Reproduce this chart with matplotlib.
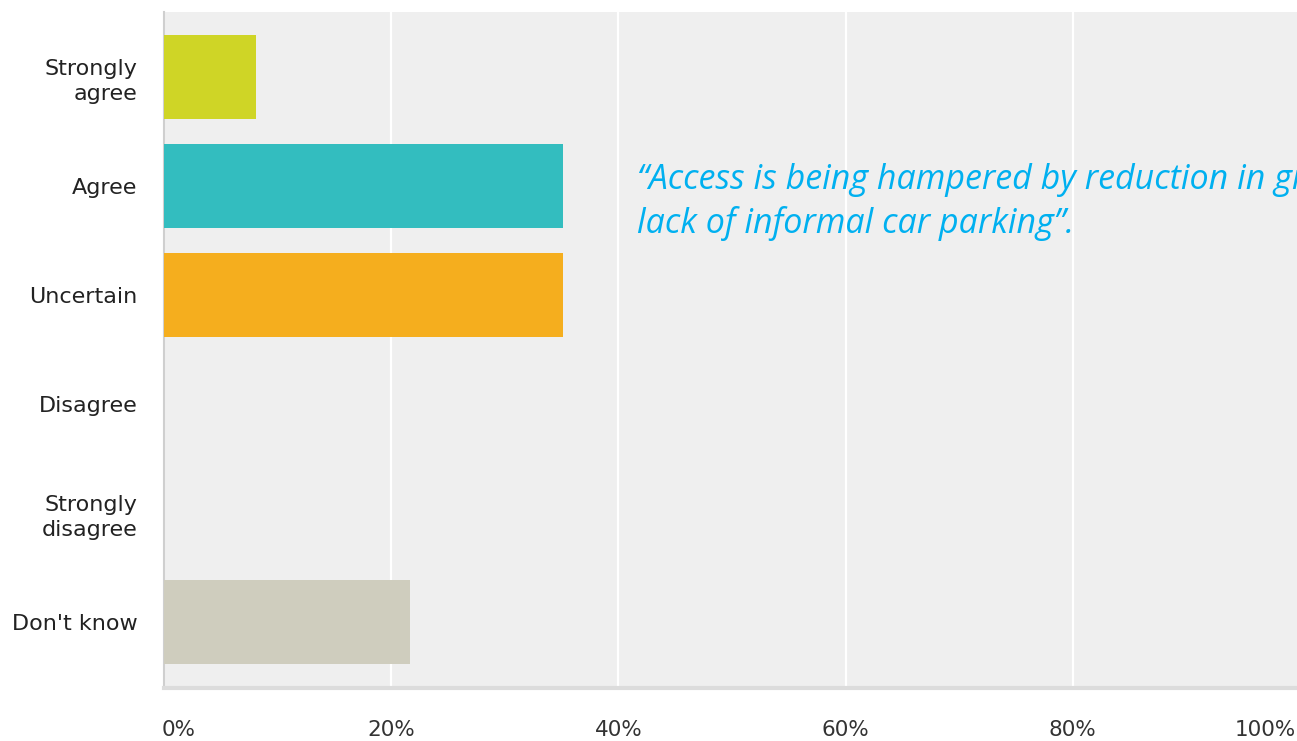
import matplotlib
matplotlib.use("Agg")
import matplotlib.pyplot as plt
from matplotlib.transforms import blended_transform_factory

categories = ["Strongly\nagree", "Agree", "Uncertain", "Disagree", "Strongly\ndisagree", "Don't know"]
values = [8.11, 35.14, 35.14, 0.0, 0.0, 21.62]
colors = ["#cfd526", "#33bdbf", "#f5ae1e", "#8e6fb0", "#e8628a", "#cfcdbe"]
xticks = [0, 20, 40, 60, 80, 100]
xtick_labels = ["0%", "20%", "40%", "60%", "80%", "100%"]
quote = "\u201cAccess is being hampered by reduction in grass\nlack of informal car parking\u201d."

W, H = 1297, 741
fig = plt.figure(figsize=(W / 100, H / 100), dpi=100)
left, right, top, bottom = 164, 1300, 12, 688
ax = fig.add_axes([left / W, 1 - bottom / H, (right - left) / W, (bottom - top) / H])
ax.set_facecolor("#efefef")

pos = list(range(len(categories)))
ax.barh(pos, values, height=0.77, color=colors, zorder=3)
ax.set_xlim(0, 100)
ax.set_ylim(5.606, -0.596)

ax.set_xticks(xticks)
ax.set_xticklabels([])
ax.grid(axis="x", color="white", linewidth=1.6, zorder=1)
ax.set_axisbelow(True)
ax.tick_params(axis="x", length=0)

trans = blended_transform_factory(ax.transData, ax.transAxes)
for i, (xt, lab) in enumerate(zip(xticks, xtick_labels)):
    if i == 0:
        ha, dx = "left", -1.5
    elif i == len(xticks) - 1:
        ha, dx = "right", -3
    else:
        ha, dx = "center", 0
    ax.annotate(lab, xy=(xt, 0), xycoords=trans, xytext=(dx, -30.5),
                textcoords="offset points", ha=ha, va="center",
                fontsize=15.5, family="DejaVu Sans", color="#333333",
                annotation_clip=False)

ax.set_yticks(pos)
ax.set_yticklabels(categories, fontsize=16, family="DejaVu Sans", color="#222222",
                   linespacing=1.3)
ax.tick_params(axis="y", length=0, pad=19)

for s in ["top", "right"]:
    ax.spines[s].set_visible(False)
ax.spines["left"].set_color("#cfcfcf")
ax.spines["left"].set_linewidth(1.5)
ax.spines["bottom"].set_color("#dcdcdc")
ax.spines["bottom"].set_linewidth(3)

fig.text(637 / W, 1 - 163 / H, quote, ha="left", va="top", color="#00b0f0",
         fontsize=24.5, style="italic", family="Open Sans", linespacing=1.33)

fig.savefig("out.png", dpi=100)
